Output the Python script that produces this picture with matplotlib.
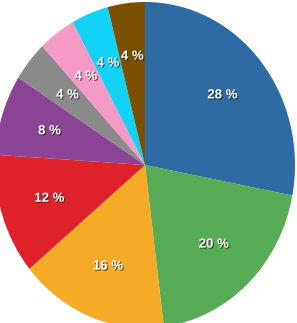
import matplotlib.pyplot as plt
import matplotlib.patheffects as pe

shares = [28, 20, 16, 12, 8, 4, 4, 4, 4]
colors = ['#2e6aa3', '#58ab55', '#f6ab27', '#df2229', '#8b4495',
          '#8a8a8a', '#f59ac6', '#12d3f6', '#7a5000']

W, H = 297, 323
cx, cy = 145, 165      # pie centre in pixels (from top-left)
rx, ry = 150, 163      # the pie is slightly stretched vertically

fig = plt.figure(figsize=(W / 100, H / 100), dpi=100)
ax = fig.add_axes([0, 0, 1, 1])

wedges, texts, autotexts = ax.pie(
    shares, colors=colors, startangle=90, counterclock=False,
    autopct='%d %%', pctdistance=0.67, wedgeprops=dict(linewidth=0))

for t in autotexts:
    t.set_color('white')
    t.set_fontsize(9.5)
    t.set_fontweight('bold')
    t.set_family('Liberation Sans')
    t.set_path_effects([pe.withSimplePatchShadow(offset=(0.8, -0.8), shadow_rgbFace='#222222', alpha=0.7)])

ax.set_aspect('auto')
ax.set_xlim(-cx / rx, (W - cx) / rx)
ax.set_ylim(-(H - cy) / ry, cy / ry)
ax.axis('off')

fig.savefig('out.png', dpi=100)
